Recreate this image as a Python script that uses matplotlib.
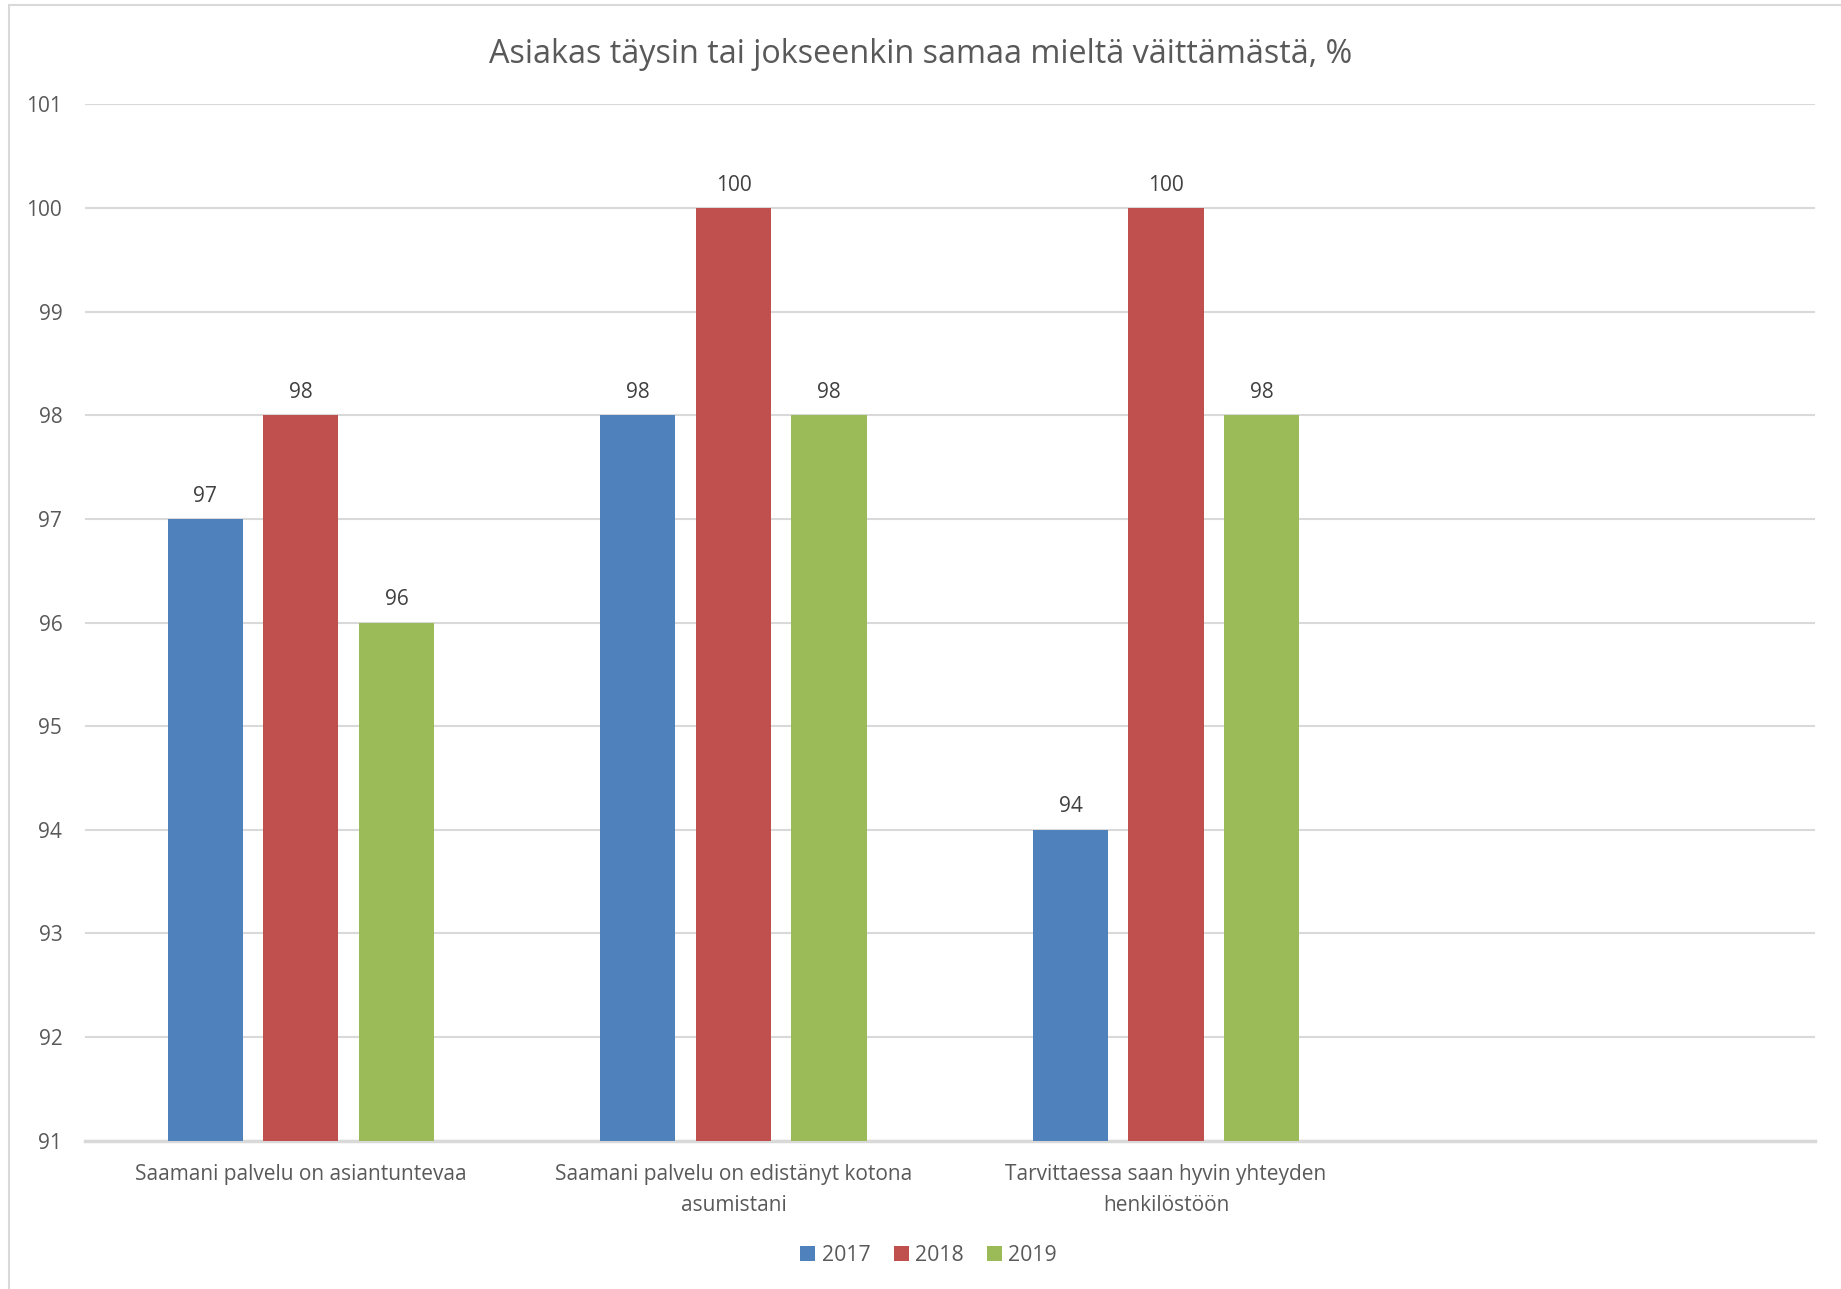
import numpy as np
import matplotlib.pyplot as plt

# Data
categories = ['Saamani palvelu on asiantuntevaa',
              'Saamani palvelu on edistänyt kotona\nasumistani',
              'Tarvittaessa saan hyvin yhteyden\nhenkilöstöön',
              '']
years = ['2017', '2018', '2019']
v2017 = [97, 98, 94]
v2018 = [98, 100, 100]
v2019 = [96, 98, 98]
colors = ['#4F81BD', '#C0504D', '#9BBB59']

plt.rcParams['font.family'] = ['Open Sans', 'DejaVu Sans']
txt = '#595959'

fig = plt.figure(figsize=(18.41, 12.89), dpi=100)
ax = fig.add_axes([0.0459, 0.115, 0.940, 0.804])

x = np.arange(3)
width = 0.174
step = 0.221
base = 91
for i, (vals, c, lab) in enumerate(zip([v2017, v2018, v2019], colors, years)):
    pos = x + (i - 1) * step
    heights = np.array(vals) - base
    bars = ax.bar(pos, heights, width, bottom=base, color=c, label=lab, zorder=3)
    for p, v in zip(pos, vals):
        ax.text(p, v + 0.12, str(v), ha='center', va='bottom', fontsize=15, color='#404040')

ax.set_xlim(-0.5, 3.5)
ax.set_ylim(91, 101)
ax.set_yticks(range(91, 102))
ax.set_xticks(np.arange(4))
ax.set_xticklabels(categories, fontsize=15, color=txt, linespacing=1.6)
ax.tick_params(axis='y', labelsize=15, labelcolor=txt, length=0, pad=16)
ax.tick_params(axis='x', length=0, pad=17)
ax.grid(axis='y', color='#D9D9D9', linewidth=1.5, zorder=0)
for s in ['top', 'right', 'left']:
    ax.spines[s].set_visible(False)
ax.spines['bottom'].set_color('#D9D9D9')
ax.spines['bottom'].set_linewidth(2.5)

fig.text(0.5, 0.958, 'Asiakas täysin tai jokseenkin samaa mieltä väittämästä, %',
         ha='center', va='center', fontsize=23.3, color=txt)

leg = fig.legend(loc='center', bbox_to_anchor=(0.5045, 0.026), ncol=3, frameon=False,
                 fontsize=15.3, handlelength=0.7, handleheight=0.7, handletextpad=0.3,
                 columnspacing=1.1, labelcolor=txt)

# chart border
border = plt.Rectangle((0.005, -0.01), 1.2, 1.006, transform=fig.transFigure,
                       fill=False, edgecolor='#D9D9D9', linewidth=1.5)
fig.patches.append(border)

fig.savefig('out.png', dpi=100)
